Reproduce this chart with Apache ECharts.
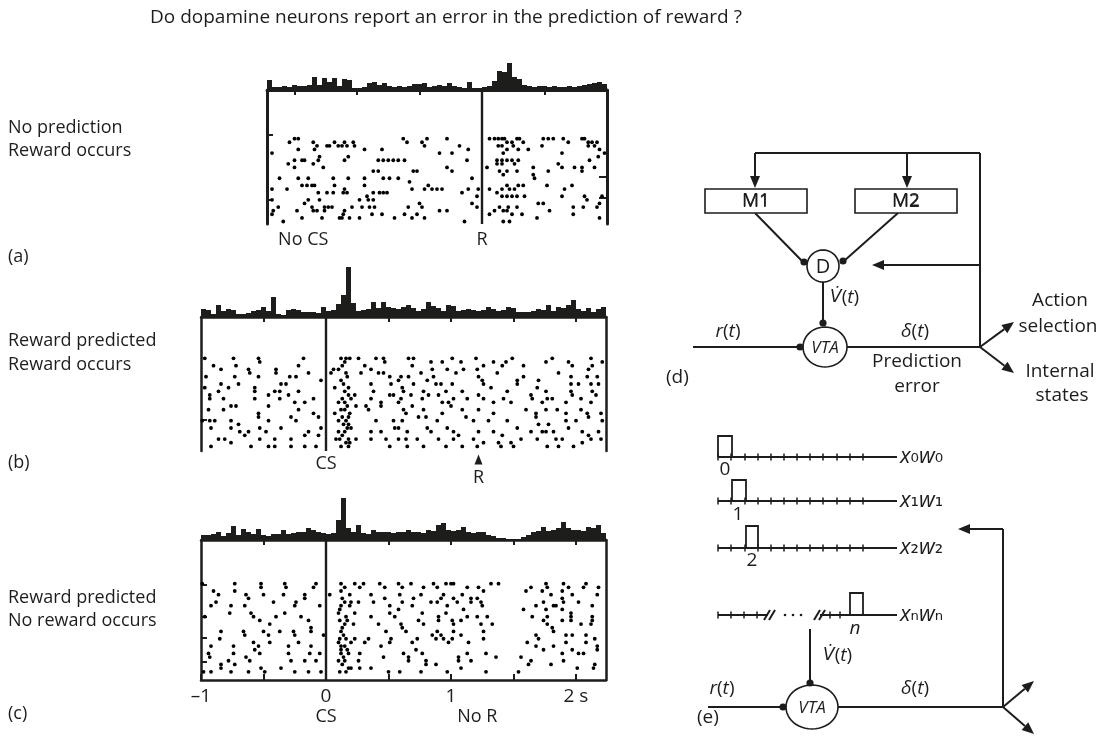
<!DOCTYPE html>
<html>
<head>
<meta charset="utf-8">
<script src="https://cdn.jsdelivr.net/npm/echarts@6/dist/echarts.min.js"></script>
<style>
html,body{margin:0;padding:0;background:#fff;}
#main{width:1101px;height:743px;}
</style>
</head>
<body>
<div id="main"></div>
<script>
var FONT = '"Open Sans", "Noto Sans", sans-serif';
var INK = '#1d1d1b';

// peri-event histograms, 0.04 s bins
var binWidth = 0.04;
var histStartA = -1.72;
var histA = [10,3,3,4,3,5,4,4,5,13,5,12,8,12,4,11,10,2,2,3,7,8,5,7,4,3,4,3,4,6,6,7,3,4,5,4,7,4,3,2,8,2,2,3,4,9,19,18,27,13,11,5,4,3,4,4,3,4,3,3,4,3,4,5,6,7,8,6];
var histStartBC = -1.0;
var histB = [8,7,3,12,6,8,7,3,3,4,6,7,10,6,20,3,2,7,8,7,5,5,5,4,10,6,7,13,22,50,14,6,7,8,15,9,15,10,9,8,10,12,9,6,8,15,11,9,6,12,11,6,7,8,7,6,7,10,8,6,7,10,9,5,5,5,6,8,7,12,6,10,9,12,17,8,6,9,5,8,10];
var histC = [5,5,6,8,4,7,14,5,11,8,6,11,5,4,6,6,10,6,7,8,8,12,10,8,7,6,7,20,42,12,8,15,7,6,10,8,8,8,7,8,8,10,8,8,7,10,9,15,17,10,9,10,13,8,7,8,8,5,4,2,2,1,1,1,3,5,8,9,13,9,10,12,18,12,10,10,9,13,12,15,7];

// rasters: [time (s), trial]
var rasterA = [
[-1.50,1],[-1.47,1],[-0.63,1],[-0.44,1],[-0.28,1],[0.06,1],[0.10,1],[0.13,1],[0.16,1],[0.18,1],[0.28,1],[0.30,1],[0.49,1],[0.53,1],[0.57,1],[0.65,1],[0.80,1],[0.82,1],
[-1.54,2],[-1.35,2],[-1.18,2],[-1.10,2],[-1.03,2],[-0.60,2],[-0.48,2],[0.20,2],[0.24,2],[0.33,2],[0.69,2],[0.85,2],[0.88,2],[0.92,2],
[-1.32,3],[-1.24,3],[-1.22,3],[-1.15,3],[-1.12,3],[-1.08,3],[-1.02,3],[-0.46,3],[-0.18,3],[0.13,3],[0.16,3],[0.25,3],[0.48,3],[0.85,3],[0.90,3],
[-1.47,4],[-1.34,4],[-0.94,4],[-0.80,4],[-0.11,4],[0.20,4],[0.29,4],[0.37,4],[0.94,4],
[-1.68,5],[-0.34,5],[-0.24,5],[0.17,5],[0.64,5],[0.98,5],
[-1.30,6],[-1.07,6],[0.93,6],
[-1.50,7],[-1.44,7],[-1.42,7],[-1.31,7],[-1.10,7],[-0.83,7],[-0.79,7],[-0.75,7],[-0.71,7],[-0.67,7],[-0.62,7],[-0.12,7],[0.12,7],[0.16,7],[0.20,7],[0.24,7],[0.29,7],[0.86,7],
[-1.55,8],[-1.35,8],[0.12,8],[0.16,8],[0.26,8],[0.61,8],
[-1.50,9],[-1.27,9],[-0.28,9],[0.04,9],[0.41,9],[0.64,9],[0.74,9],[0.80,9],[0.90,9],
[-0.87,10],[-0.83,10],[-0.55,10],[-0.52,10],[-0.24,10],[0.14,10],[0.20,10],[0.28,10],[0.53,10],[0.80,10],
[0.17,11],[0.41,11],
[-1.62,12],[-1.47,12],[-1.39,12],[-1.19,12],[-1.07,12],[-0.94,12],[-0.79,12],[-0.74,12],[-0.67,12],[-0.08,12],[0.42,12],
[-0.58,13],
[-1.44,14],[-1.40,14],[-1.36,14],[-1.34,14],[-1.18,14],[-0.94,14],[-0.43,14],[0.20,14],[0.29,14],[0.33,14],[0.52,14],[0.72,14],
[-1.68,15],[-1.56,15],[-1.10,15],[-0.56,15],[-0.46,15],[-0.40,15],[-0.36,15],[-0.32,15],[-0.11,15],[-0.03,15],[0.06,15],[0.16,15],[0.22,15],[0.26,15],[0.66,15],
[-1.31,16],[-1.24,16],[-1.19,16],[-1.11,16],[-1.08,16],[-0.87,16],[-0.82,16],[-0.79,16],[-0.76,16],[-0.16,16],[0.12,16],
[-0.92,17],[-0.04,17],[0.16,17],[0.20,17],[0.24,17],[0.28,17],[0.34,17],[0.64,17],[0.82,17],[0.96,17],
[-1.68,18],[-1.39,18],[-1.30,18],[-0.98,18],[-0.91,18],[-0.87,18],[0.84,18],
[-1.42,19],[-0.50,19],[-0.08,19],[0.45,19],[0.49,19],[0.94,19],
[-1.63,20],[-1.36,20],[-1.26,20],[-1.23,20],[-1.20,20],[-1.04,20],[-0.96,20],[-0.90,20],[-0.86,20],[-0.59,20],[-0.48,20],[-0.04,20],[0.14,20],[0.21,20],[0.28,20],[0.73,20],[0.81,20],[0.92,20],
[-1.67,21],[-1.48,21],[-1.35,21],[-1.32,21],[-1.26,21],[-1.10,21],[-0.34,21],[-0.28,21],[0.10,21],[0.17,21],[0.20,21],[0.54,21],
[-1.68,22],[-1.11,22],[-0.88,22],[-0.80,22],[-0.62,22],[-0.52,22],[0.06,22],[0.24,22],[0.32,22],[0.73,22],
[-1.44,23],[-1.28,23],[-1.14,23],[-1.12,23],[-1.06,23],[-0.98,23],[-0.70,23],[-0.56,23],[-0.46,23],[0.44,23],[0.94,23],
[-1.59,24],[-0.14,24],[0.17,24],[0.22,24]
];

var rasterB = [
[-0.97,0],[-0.74,0],[-0.54,0],[-0.18,0],
[-0.90,2],[-0.84,3],[-0.72,2],[-0.62,3],[-0.53,1],[-0.40,3],[-0.22,2],
[-0.61,4],[-0.40,4],[-0.14,4],[-0.96,5],[-0.73,5],[-0.54,5],[-0.29,5],[-0.24,5],
[-0.97,8],[-0.84,7],[-0.78,8],[-0.70,7],[-0.57,8],[-0.36,7],[-0.32,7],[-0.04,6],[-0.86,9],
[-0.93,10],[-0.57,9],[-0.46,10],[-0.41,9],[-0.37,9],[-0.30,10],[-0.22,9],[-0.10,11],
[-0.93,11],[-0.82,11],[-0.57,11],[-0.46,13],[-0.37,11],[-0.25,12],[-0.17,12],[-0.76,13],[-0.72,13],
[-0.94,14],[-0.82,14],[-0.54,15],[-0.22,14],[-0.10,15],
[-0.99,17],[-0.93,17],[-0.89,17],[-0.76,17],[-0.70,18],[-0.54,16],[-0.46,17],[-0.28,16],[-0.24,17],[-0.06,16],
[-0.92,19],[-0.76,19],[-0.69,20],[-0.62,20],[-0.53,19],[-0.48,20],[-0.36,19],[-0.14,20],[-0.04,19],
[-0.86,22],[-0.81,22],[-0.65,21],[-0.53,22],[-0.41,22],[-0.28,22],[-0.17,21],[-0.06,21],
[-0.92,24],[-0.76,23],[-0.60,24],[-0.46,24],[-0.41,24],[-0.28,24],[-0.17,24],[-0.08,24],
[0.12,0],[0.16,0],[0.19,0],[0.26,0],[0.40,0],[0.46,0],
[0.06,3],[0.15,1],[0.31,2],[0.36,3],[0.47,1],
[0.04,4],[0.10,3],[0.16,4],[0.28,4],[0.42,4],[0.46,4],[0.51,5],[0.60,5],
[0.12,6],[0.07,8],[0.15,9],[0.36,7],[0.52,7],[0.58,6],
[0.18,10],[0.23,10],[0.38,9],[0.44,12],[0.51,10],[0.54,10],
[0.10,12],[0.15,12],[0.20,11],[0.24,13],[0.32,13],[0.36,11],[0.44,13],[0.58,12],
[0.07,15],[0.15,14],[0.19,15],[0.34,14],
[0.10,17],[0.16,17],[0.40,17],[0.54,17],
[0.10,20],[0.15,20],[0.20,19],[0.36,20],[0.44,20],[0.55,19],
[0.08,22],[0.11,22],[0.18,22],[0.24,22],[0.36,22],[0.48,22],[0.58,22],
[0.12,24],[0.18,24],[0.51,24],
[0.13,2],[0.17,5],[0.14,7],[0.18,8],[0.13,11],[0.17,13],[0.13,16],[0.18,16],[0.14,18],[0.17,19],[0.13,21],[0.16,23],[0.19,23],[0.12,14],[0.18,18],
[0.66,0],[0.70,0],[0.84,1],[0.93,1],[1.01,0],[1.08,1],[1.20,0],[1.34,1],[1.44,1],[1.49,0],[1.76,1],[1.81,0],[1.94,1],[2.12,0],[2.21,1],
[0.69,2],[0.85,3],[0.97,3],[1.10,3],[1.21,3],[1.26,2],[1.41,2],[1.58,2],[1.97,2],[2.10,3],[2.13,2],
[0.66,5],[0.76,4],[0.86,5],[1.04,4],[1.22,5],[1.37,4],[1.58,5],[1.86,4],[1.96,5],[2.09,5],[2.17,5],
[0.61,8],[0.70,7],[0.81,6],[0.88,7],[0.92,7],[1.01,7],[1.25,6],[1.26,7],[1.53,7],[1.53,6],[1.70,6],[1.69,8],[1.96,7],[2.02,7],[2.12,7],[2.18,7],
[0.62,9],[0.68,10],[0.78,9],[0.82,10],[0.90,10],[0.96,9],[1.09,9],[1.22,10],[1.32,8],[1.45,9],[1.64,10],[1.76,9],[1.96,9],[1.97,10],[2.13,9],[2.16,10],
[0.60,11],[0.69,13],[0.77,11],[0.93,12],[0.98,12],[1.02,11],[1.13,11],[1.26,11],[1.34,12],[1.42,11],[1.48,12],[1.65,11],[1.73,12],[1.77,11],[1.81,11],[1.92,12],[2.04,11],[2.12,12],
[0.62,14],[0.64,15],[0.78,14],[0.93,15],[1.00,13],[1.09,14],[1.22,14],[1.34,15],[1.60,14],[1.68,15],[1.76,14],[1.85,14],[1.92,15],[2.04,14],[2.09,15],[2.20,15],
[0.61,17],[0.74,16],[0.80,16],[0.89,17],[1.12,16],[1.18,17],[1.30,17],[1.45,17],[1.68,16],[1.70,18],[1.78,18],[1.92,17],[2.00,17],[2.10,16],[2.21,17],
[0.58,19],[0.65,20],[0.81,19],[0.84,20],[0.97,19],[1.02,20],[1.22,20],[1.34,20],[1.41,21],[1.53,19],[1.64,20],[1.73,20],[1.76,20],[1.82,20],[1.94,19],[2.05,20],[2.18,20],
[0.64,22],[0.73,22],[0.90,22],[1.02,22],[1.06,21],[1.18,22],[1.26,23],[1.38,23],[1.48,23],[1.56,22],[1.69,22],[1.84,22],[1.89,22],[2.10,21],[2.12,22],[2.20,22],
[0.65,24],[0.78,24],[0.96,24],[1.09,24],[1.21,24],[1.40,24],[1.50,24],[1.77,24],[1.86,24],[1.98,24],[2.05,23]
];

var rasterC = [
[-0.99,0],[-0.90,2],[-0.73,0],[-0.52,0],[-0.52,1],[-0.33,0],[-0.32,1],[-0.08,0],[-0.10,1],
[-0.86,3],[-0.73,2],[-0.64,3],[-0.62,4],[-0.50,3],[-0.34,3],[-0.17,3],[-0.17,4],
[-0.92,6],[-0.88,5],[-0.76,6],[-0.65,6],[-0.42,5],[-0.24,5],[-0.25,6],[-0.05,6],
[-0.77,8],[-0.60,8],[-0.58,9],[-0.97,9],[-0.33,8],[-0.40,9],[-0.20,9],[-0.14,10],
[-0.53,10],[-0.45,11],[-0.12,12],
[-0.84,13],[-0.85,15],[-0.66,13],[-0.65,14],[-0.50,13],[-0.46,14],[-0.37,13],[-0.26,13],[-0.25,14],[-0.12,13],[-0.02,14],
[-0.92,17],[-0.74,17],[-0.58,16],[-0.54,17],[-0.57,18],[-0.45,16],[-0.30,17],[-0.22,16],[-0.12,17],
[-0.94,19],[-0.93,20],[-0.74,19],[-0.64,20],[-0.53,19],[-0.30,19],[-0.13,19],[-0.05,19],[-0.78,21],
[-0.84,22],[-0.84,23],[-0.73,22],[-0.61,21],[-0.52,23],[-0.36,23],[-0.28,21],[-0.17,21],[-0.08,21],
[-0.98,24],[-0.92,24],[-0.76,24],[-0.62,24],[-0.49,24],[-0.25,24],[-0.14,24],[-0.04,24],
[0.12,0],[0.15,1],[0.23,0],[0.30,0],[0.43,0],[0.47,1],[0.58,0],
[0.03,3],[0.12,2],[0.19,3],[0.27,1],[0.36,3],[0.38,5],[0.47,4],[0.59,3],
[0.15,5],[0.20,5],[0.26,5],[0.12,6],[0.19,6],[0.51,6],[0.58,7],
[0.10,8],[0.16,9],[0.23,8],[0.36,9],[0.51,8],[0.55,9],
[0.15,11],[0.22,11],[0.42,11],[0.48,13],[0.60,11],[0.12,13],
[0.14,14],[0.16,15],[0.23,15],[0.34,15],[0.52,15],
[0.10,16],[0.15,17],[0.20,16],[0.31,16],[0.44,17],[0.51,16],[0.12,18],
[0.12,19],[0.18,19],[0.27,19],[0.46,20],
[0.10,21],[0.15,21],[0.26,21],[0.11,24],[0.18,23],[0.20,23],[0.27,23],[0.36,23],[0.50,24],[0.59,24],
[0.13,4],[0.11,7],[0.17,10],[0.13,12],[0.11,15],[0.17,18],[0.14,20],[0.13,22],[0.16,24],[0.11,10],[0.12,17],
[0.61,1],[0.68,0],[0.78,1],[0.86,0],[0.89,1],[0.96,0],[1.00,0],[1.02,0],[1.13,1],[1.22,1],[1.32,0],[1.38,0],[1.64,1],[1.76,0],[1.77,1],[1.90,0],[1.94,1],[2.08,0],[2.06,1],[2.18,1],
[0.70,4],[0.76,3],[0.92,4],[0.94,3],[1.02,4],[1.09,3],[1.16,4],[1.21,4],[1.26,2],[1.60,2],[1.73,2],[1.80,3],[1.89,2],[1.89,4],[1.97,3],[2.02,5],[2.17,3],
[0.61,5],[0.69,6],[0.84,5],[0.89,5],[0.97,6],[1.05,5],[1.16,5],[1.24,5],[1.25,6],[1.68,6],[1.74,5],[1.82,6],[1.84,6],[1.90,5],[2.13,6],
[0.77,8],[0.96,8],[0.90,9],[1.10,7],[1.13,9],[1.21,9],[1.29,9],[1.58,7],[1.65,9],[1.76,7],[1.77,9],[1.89,7],[1.96,8],[1.96,9],[2.13,9],[2.13,10],
[0.74,10],[0.78,11],[0.90,10],[1.01,10],[1.02,11],[1.08,10],[1.24,11],[1.33,11],[1.74,10],[1.77,11],[1.81,12],[1.89,10],[1.96,10],[2.04,11],[2.12,11],
[0.61,12],[0.64,13],[0.89,13],[0.85,14],[0.92,14],[1.02,13],[1.08,14],[1.26,13],[1.68,14],[1.70,15],[1.82,13],[1.92,14],[1.97,14],[2.08,14],[2.15,15],
[0.69,16],[0.73,15],[0.88,15],[0.94,15],[0.98,16],[1.01,15],[1.14,16],[1.26,15],[1.61,16],[1.68,17],[1.74,18],[1.82,17],[1.92,16],[1.97,18],[2.08,16],[2.17,17],[2.17,18],
[0.62,19],[0.66,20],[0.72,18],[0.77,19],[1.06,20],[1.13,19],[1.28,19],[1.36,20],[1.56,20],[1.64,21],[1.89,19],[2.02,19],[2.06,19],
[0.66,21],[0.80,21],[0.80,22],[0.76,24],[0.88,22],[0.97,24],[1.06,21],[1.16,21],[1.08,23],[1.28,24],[1.54,24],[1.62,22],[1.80,22],[1.90,21],[2.01,23],[2.15,22],[2.14,23]
];

// trial-block marks on the frame (trial numbers)
var leftMarksA = [0, 18];
var rightMarksA = [11.5, 17.5];
var leftMarksB = [16.8];
var leftMarksC = [0.4, 9, 14.6, 21.4];

// time ticks (s)
var tickTimesA = [-1.5, -1, -0.5, 0.5];
var tickTimesBC = [-0.5, 0.5, 1, 1.5, 2];
var axisTicksC = [-1, -0.5, 0, 0.5, 1, 1.5, 2];
var axisLabelsC = [-1, 0, 1, 2];

// labels under the rasters: [time (s), text, trial row where the text sits]
var eventsA = [[-1.43, 'No CS', 29.2], [0, 'R', 29.2]];
var eventsB = [[0, 'CS', 28.8], [1.22, 'R', 32.6]];
var eventsC = [[0, 'CS', 36.3], [1.21, 'No R', 36.3]];
var rewardArrowB = [1.22];

var rowTexts = [
  ['No prediction', 128], ['Reward occurs', 151], ['(a)', 257],
  ['Reward predicted', 341], ['Reward occurs', 365], ['(b)', 463],
  ['Reward predicted', 598], ['No reward occurs', 621], ['(c)', 714]
];

// schematic (d) and (e), in diagram units
var diagLines = [
  [115,23,340,23],[340,23,340,217],[115,83,163,132],[258,83,204,131],[183,152,183,192],
  [53,217,160,217],[207,217,340,217],
  [78,327,257,327],[78,371,257,371],[78,418,257,418],[78,485,128,485],[180,485,257,485],
  [170,499,170,552],[68,577,143,577],[198,577,363,577],[363,577,363,399],
  [124,490,130,480],[129,490,135,480],[174,490,180,480],[179,490,185,480]
];
var diagArrows = [
  [115,23,115,58],[267,23,267,58],[340,135,232,135],[340,217,374,192],[340,217,374,243],
  [363,399,318,399],[363,577,394,551],[363,577,394,604]
];
var diagBoxes = [[65,59,102,24,'M1'],[215,59,102,24,'M2']];
var diagNodes = [[183,136,16,16,'D',false],[185,217,22,20,'VTA',true],[172,577,26,22,'VTA',true]];
var diagDots = [[164,132],[203,131],[183,193],[160,217],[170,553],[143,577]];
var diagEllipsis = [[145,485],[153,485],[161,485]];
var diagPulses = [[78,92,327,21],[92,106,371,21],[106,118,418,22],[210,223,485,22]];
var diagTickX = [78,91,105,118,131,144,157,170,183,197,210,223];
var diagTickRows = [327,371,418];
var diagTickN = [78,91,104,117,190,200];
var diagTexts = [
  [116,71,'M1','center'],[266,71,'M2','center'],
  [190,168,'{v|V\u0307}({i|t})','left'],
  [88,202,'{i|r}({i|t})','center'],[275,202,'{i|\u03b4}({i|t})','center'],
  [277,232,'Prediction','center'],[277,257,'error','center'],
  [420,171,'Action','center'],[418,197,'selection','center'],
  [420,242,'Internal','center'],[422,266,'states','center'],
  [26,248,'(d)','left'],
  [85,340,'0','center'],[98,385,'1','center'],[112,431,'2','center'],[215,499,'{i|n}','center'],
  [260,327,'{j|x}{s|\u2080}{j|w}{s|\u2080}','left'],[260,371,'{j|x}{s|\u2081}{j|w}{s|\u2081}','left'],
  [260,418,'{j|x}{s|\u2082}{j|w}{s|\u2082}','left'],[260,485,'{j|x}{s|\u2099}{j|w}{s|\u2099}','left'],
  [183,526,'{v|V\u0307}({i|t})','left'],
  [82,559,'{i|r}({i|t})','center'],[275,559,'{i|\u03b4}({i|t})','center'],
  [57,588,'(e)','left']
];

var RICH = {
  i: {fontFamily: FONT, fontSize: 19, fontStyle: 'italic', color: INK},
  j: {fontFamily: FONT, fontSize: 22, fontStyle: 'italic', color: INK},
  v: {fontFamily: '"DejaVu Sans"', fontSize: 17, fontStyle: 'italic', color: INK},
  s: {fontFamily: '"DejaVu Sans"', fontSize: 21, color: INK}
};

function binLabels(start, n){
  var out = [];
  for (var i = 0; i < n; i++) out.push((start + i * binWidth).toFixed(2));
  return out;
}

var panels = [
  {hist: histA, start: histStartA, raster: rasterA, left: 267, width: 340, min: -1.72, max: 1.0,
   histTop: 58, base: 90, bottom: 224, rowMin: -12.5, rowMax: 24.7, histMax: 32,
   ticks: tickTimesA, leftMarks: leftMarksA, rightMarks: rightMarksA, events: eventsA, lineW: 3},
  {hist: histB, start: histStartBC, raster: rasterB, left: 201, width: 405, min: -1, max: 2.24,
   histTop: 265, base: 317, bottom: 451, rowMin: -11.25, rowMax: 25.26, histMax: 52,
   ticks: tickTimesBC, leftMarks: leftMarksB, rightMarks: [], events: eventsB, arrows: rewardArrowB, lineW: 2.5},
  {hist: histC, start: histStartBC, raster: rasterC, left: 201, width: 405, min: -1, max: 2.24,
   histTop: 496, base: 540, bottom: 680, rowMin: -11.9, rowMax: 26.24, histMax: 44,
   ticks: tickTimesBC, leftMarks: leftMarksC, rightMarks: [], events: eventsC, lineW: 2.5}
];

var grid = [], xAxis = [], yAxis = [], series = [];

panels.forEach(function(p, k){
  var gh = grid.length;
  grid.push({left: p.left, top: p.histTop, width: p.width, height: p.base - p.histTop, outerBoundsMode: 'none'});
  grid.push({left: p.left, top: p.base, width: p.width, height: p.bottom - p.base, outerBoundsMode: 'none'});
  var xh = xAxis.length;
  xAxis.push({type: 'category', gridIndex: gh, data: binLabels(p.start, p.hist.length), show: false});
  xAxis.push({type: 'value', gridIndex: gh + 1, position: 'top', min: p.min, max: p.max,
    axisLine: {show: true, onZero: false, lineStyle: {color: INK, width: p.lineW}},
    axisTick: {show: true, inside: true, length: 5, lineStyle: {color: INK, width: 2}, customValues: p.ticks},
    axisLabel: {show: false}, splitLine: {show: false}});
  var yh = yAxis.length;
  yAxis.push({type: 'value', gridIndex: gh, min: 0, max: p.histMax, show: false});
  yAxis.push({type: 'value', gridIndex: gh + 1, min: p.rowMin, max: p.rowMax, inverse: true, position: 'left',
    axisLine: {show: true, onZero: false, lineStyle: {color: INK, width: p.lineW}},
    axisTick: {show: p.leftMarks.length > 0, inside: true, length: 6, lineStyle: {color: INK, width: 2}, customValues: p.leftMarks},
    axisLabel: {show: false}, splitLine: {show: false}});
  yAxis.push({type: 'value', gridIndex: gh + 1, min: p.rowMin, max: p.rowMax, inverse: true, position: 'right',
    axisLine: {show: true, onZero: false, lineStyle: {color: INK, width: p.lineW}},
    axisTick: {show: p.rightMarks.length > 0, inside: true, length: 8, lineStyle: {color: INK, width: 2}, customValues: p.rightMarks},
    axisLabel: {show: false}, splitLine: {show: false}});

  series.push({type: 'bar', xAxisIndex: xh, yAxisIndex: yh, data: p.hist, barCategoryGap: '0%',
    itemStyle: {color: INK, opacity: 1}, silent: true});
  series.push({type: 'scatter', xAxisIndex: xh + 1, yAxisIndex: yh + 1, data: p.raster,
    symbol: 'circle', symbolSize: 3.8, itemStyle: {color: '#000', opacity: 1}, silent: true,
    markLine: {silent: true, symbol: ['none', 'none'], label: {show: false},
      lineStyle: {color: INK, width: 2.4, type: 'solid', opacity: 1}, data: [{xAxis: 0}]}});
  var ev = p.events;
  series.push({type: 'custom', xAxisIndex: xh + 1, yAxisIndex: yh + 1, clip: false, silent: true,
    data: ev.map(function(e){ return [e[0], e[2]]; }),
    renderItem: function(params, api){
      var e = ev[params.dataIndex];
      var c = api.coord([e[0], e[2]]);
      return {type: 'text', style: {text: e[1], x: c[0], y: c[1], align: 'center', verticalAlign: 'middle',
        fill: INK, stroke: 'none', lineWidth: 0, fontSize: 18, fontFamily: FONT}};
    }});
  if (p.arrows) {
    series.push({type: 'scatter', xAxisIndex: xh + 1, yAxisIndex: yh + 1, clip: false, silent: true,
      symbol: 'triangle', symbolSize: [8, 10], itemStyle: {color: INK, opacity: 1},
      data: p.arrows.map(function(t){ return [t, 27.6]; })});
  }
  if (k === 2) {
    xAxis.push({type: 'value', gridIndex: gh + 1, position: 'bottom', min: p.min, max: p.max,
      axisLine: {show: true, onZero: false, lineStyle: {color: INK, width: 2.5}},
      axisTick: {show: true, inside: true, length: 6, lineStyle: {color: INK, width: 2}, customValues: axisTicksC},
      axisLabel: {show: true, customValues: axisLabelsC, margin: 7, color: INK, fontSize: 19, fontFamily: FONT,
        formatter: function(v){ return v === 2 ? '2 s' : (v < 0 ? '\u2013' + Math.abs(v) : String(v)); }},
      splitLine: {show: false}});
  }
});

// diagram grid
var dg = grid.length;
grid.push({left: 640, top: 130, width: 460, height: 613, outerBoundsMode: 'none'});
var dx = xAxis.length, dy = yAxis.length;
xAxis.push({type: 'value', gridIndex: dg, min: 0, max: 460, show: false});
yAxis.push({type: 'value', gridIndex: dg, min: 0, max: 613, inverse: true, show: false});

function arrowHead(a, b, len, half){
  var vx = b[0] - a[0], vy = b[1] - a[1], L = Math.sqrt(vx * vx + vy * vy);
  var ux = vx / L, uy = vy / L;
  var bx = b[0] - ux * len, by = b[1] - uy * len;
  return {base: [bx, by], pts: [[b[0], b[1]], [bx - uy * half, by + ux * half], [bx + uy * half, by - ux * half]]};
}
function diagSeries(list, render){
  return {type: 'custom', xAxisIndex: dx, yAxisIndex: dy, silent: true, clip: false,
    data: list.map(function(d){ return [d[0], d[1]]; }), renderItem: render};
}
function textStyle(text, x, y, align, size, italic){
  return {text: text, x: x, y: y, align: align, verticalAlign: 'middle', fill: INK, stroke: 'none', lineWidth: 0,
    fontSize: size, fontStyle: italic ? 'italic' : 'normal', fontFamily: FONT, rich: RICH};
}

series.push(diagSeries(diagLines, function(params, api){
  var d = diagLines[params.dataIndex];
  var a = api.coord([d[0], d[1]]), b = api.coord([d[2], d[3]]);
  return {type: 'line', shape: {x1: a[0], y1: a[1], x2: b[0], y2: b[1]}, style: {stroke: INK, lineWidth: 2}};
}));
series.push(diagSeries(diagArrows, function(params, api){
  var d = diagArrows[params.dataIndex];
  var a = api.coord([d[0], d[1]]), b = api.coord([d[2], d[3]]);
  var h = arrowHead(a, b, 12, 5);
  return {type: 'group', children: [
    {type: 'line', shape: {x1: a[0], y1: a[1], x2: h.base[0], y2: h.base[1]}, style: {stroke: INK, lineWidth: 2}},
    {type: 'polygon', shape: {points: h.pts}, style: {fill: INK, stroke: 'none'}}
  ]};
}));
series.push(diagSeries(diagBoxes, function(params, api){
  var d = diagBoxes[params.dataIndex];
  var a = api.coord([d[0], d[1]]), b = api.coord([d[0] + d[2], d[1] + d[3]]);
  return {type: 'group', children: [
    {type: 'rect', shape: {x: a[0], y: a[1], width: b[0] - a[0], height: b[1] - a[1]}, style: {fill: '#fff', stroke: INK, lineWidth: 1.6}},
    {type: 'text', style: textStyle(d[4], (a[0] + b[0]) / 2, (a[1] + b[1]) / 2 + 1, 'center', 19, false)}
  ]};
}));
series.push(diagSeries(diagNodes, function(params, api){
  var d = diagNodes[params.dataIndex];
  var c = api.coord([d[0], d[1]]);
  var pts = [];
  for (var i = 0; i < 48; i++) {
    var ang = i / 48 * Math.PI * 2;
    pts.push([c[0] + Math.cos(ang) * d[2], c[1] + Math.sin(ang) * d[3]]);
  }
  return {type: 'group', children: [
    {type: 'polygon', shape: {points: pts}, style: {fill: '#fff', stroke: INK, lineWidth: 1.6}},
    {type: 'text', style: textStyle(d[4], c[0], c[1] + 1, 'center', d[5] ? 17 : 20, d[5])}
  ]};
}));
series.push(diagSeries(diagDots, function(params, api){
  var c = api.coord(diagDots[params.dataIndex]);
  return {type: 'circle', shape: {cx: c[0], cy: c[1], r: 3.6}, style: {fill: INK, stroke: 'none'}};
}));
series.push(diagSeries(diagEllipsis, function(params, api){
  var c = api.coord(diagEllipsis[params.dataIndex]);
  return {type: 'circle', shape: {cx: c[0], cy: c[1], r: 1.3}, style: {fill: INK, stroke: 'none'}};
}));
series.push(diagSeries(diagPulses, function(params, api){
  var d = diagPulses[params.dataIndex];
  var a = api.coord([d[0], d[2]]), b = api.coord([d[1], d[2] - d[3]]);
  return {type: 'polyline', shape: {points: [[a[0], a[1]], [a[0], b[1]], [b[0], b[1]], [b[0], a[1]]]}, style: {stroke: INK, lineWidth: 1.8, fill: null}};
}));
var diagTicks = [];
diagTickRows.forEach(function(y){ diagTickX.forEach(function(x){ diagTicks.push([x, y]); }); });
diagTickN.forEach(function(x){ diagTicks.push([x, 485]); });
series.push(diagSeries(diagTicks, function(params, api){
  var c = api.coord(diagTicks[params.dataIndex]);
  return {type: 'line', shape: {x1: c[0], y1: c[1] - 3.5, x2: c[0], y2: c[1] + 3.5}, style: {stroke: INK, lineWidth: 1.5}};
}));
series.push(diagSeries(diagTexts, function(params, api){
  var d = diagTexts[params.dataIndex];
  var c = api.coord([d[0], d[1]]);
  return {type: 'text', style: textStyle(d[2], c[0], c[1], d[3], 19, false)};
}));

var chart = echarts.init(document.getElementById('main'), null, {renderer: 'canvas'});
var option = {
  animation: false,
  backgroundColor: '#fff',
  title: {text: 'Do dopamine neurons report an error in the prediction of reward ?', left: 150, top: 8, padding: 0,
    textStyle: {fontSize: 19, fontWeight: 'normal', color: INK, fontFamily: FONT}},
  grid: grid,
  xAxis: xAxis,
  yAxis: yAxis,
  graphic: rowTexts.map(function(r){
    return {type: 'text', x: 8, y: r[1], silent: true,
      style: {text: r[0], fill: INK, fontSize: 18, fontFamily: FONT, align: 'left', verticalAlign: 'middle'}};
  }),
  series: series
};
chart.setOption(option);
</script>
</body>
</html>
